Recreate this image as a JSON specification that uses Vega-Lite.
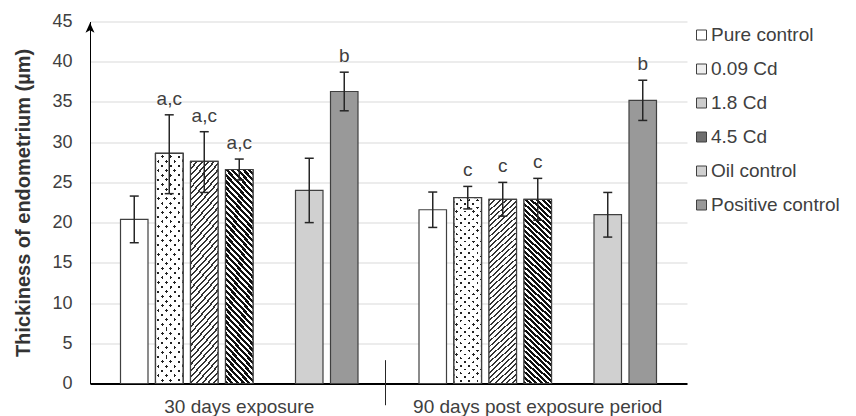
{
"$schema":"https://vega.github.io/schema/vega-lite/v6.json",
"width":597,"height":362,
"autosize":{"type":"none"},
"padding":{"left":90,"top":21.5,"right":169,"bottom":32.5},
"background":"white",
"config":{"view":{"stroke":null},"font":"Liberation Sans",
"axisX":{"domainColor":"#000","domainWidth":2,"ticks":false,"tickSize":0,"labelFontSize":19,"labelColor":"#404040","labelPadding":14,"labelLimit":400,"labelAngle":0,"grid":false,"zindex":1},
"axisY":{"domainColor":"#000","domainWidth":1,"ticks":false,"tickSize":0,"labelFontSize":18,"labelColor":"#404040","labelPadding":18,"grid":true,"gridColor":"#d9d9d9","gridWidth":1,"titleFontSize":20,"titleFontWeight":"bold","titleColor":"#333","titleX":-57,"titleY":181,"titleAngle":-90,"titleBaseline":"bottom","titleAlign":"center"},
"legend":{"orient":"none","legendX":602,"legendY":4,"direction":"vertical","labelFontSize":19,"labelFont":"Liberation Sans","labelColor":"#404040","symbolType":"square","symbolSize":100,"symbolStrokeColor":"#404040","symbolStrokeWidth":1,"rowPadding":14,"labelOffset":0,"padding":0}},
"data":{"values":[
{"period":"30 days exposure","group":"Pure control","value":20.4,"low":17.5,"high":23.3,"label":""},
{"period":"30 days exposure","group":"0.09 Cd","value":28.6,"low":23.6,"high":33.4,"label":"a,c"},
{"period":"30 days exposure","group":"1.8 Cd","value":27.6,"low":23.75,"high":31.3,"label":"a,c"},
{"period":"30 days exposure","group":"4.5 Cd","value":26.6,"low":25.3,"high":27.9,"label":"a,c"},
{"period":"30 days exposure","group":"Oil control","value":24.0,"low":20.0,"high":28.0,"label":""},
{"period":"30 days exposure","group":"Positive control","value":36.3,"low":33.9,"high":38.7,"label":"b"},
{"period":"90 days post exposure period","group":"Pure control","value":21.6,"low":19.4,"high":23.8,"label":""},
{"period":"90 days post exposure period","group":"0.09 Cd","value":23.1,"low":21.7,"high":24.5,"label":"c"},
{"period":"90 days post exposure period","group":"1.8 Cd","value":22.9,"low":20.8,"high":25.0,"label":"c"},
{"period":"90 days post exposure period","group":"4.5 Cd","value":22.9,"low":20.3,"high":25.5,"label":"c"},
{"period":"90 days post exposure period","group":"Oil control","value":21.0,"low":18.2,"high":23.75,"label":""},
{"period":"90 days post exposure period","group":"Positive control","value":35.2,"low":32.7,"high":37.7,"label":"b"}
]},
"layer":[
{"mark":{"type":"bar","stroke":"#404040","strokeWidth":1.2},
"encoding":{
"x":{"field":"period","type":"nominal","title":null,"sort":["30 days exposure","90 days post exposure period"],"scale":{"type":"band","paddingInner":0,"paddingOuter":0}},
"xOffset":{"field":"group","type":"nominal","scale":{"domain":["Pure control","0.09 Cd","1.8 Cd","4.5 Cd","(gap)","Oil control","Positive control"],"paddingInner":0.2143,"paddingOuter":0.8715}},
"y":{"field":"value","type":"quantitative","title":"Thickiness of endometrium (µm)","stack":null,"scale":{"domain":[0,45],"nice":false}},
"color":{"field":"group","type":"nominal","scale":{"domain":["Pure control","0.09 Cd","1.8 Cd","4.5 Cd","Oil control","Positive control"],"range":["#ffffff","#eeeeee","#cccccc","#6e6e6e","#d0d0d0","#999999"]},"legend":{"title":null}}
}},
{"transform":[{"filter":"datum.group == '0.09 Cd'"}],
"mark":{"type":"bar","stroke":"#404040","strokeWidth":1.2,"fill":{"gradient":"linear","x1":0,"y1":0,"x2":0.1495,"y2":1.1141,"stops":[
{"offset":0,"color":"#222"},{"offset":0.012,"color":"#222"},{"offset":0.012,"color":"#fff"},{"offset":0.035714,"color":"#fff"},
{"offset":0.035714,"color":"#222"},{"offset":0.047714,"color":"#222"},{"offset":0.047714,"color":"#fff"},{"offset":0.071429,"color":"#fff"},
{"offset":0.071429,"color":"#222"},{"offset":0.083429,"color":"#222"},{"offset":0.083429,"color":"#fff"},{"offset":0.107143,"color":"#fff"},
{"offset":0.107143,"color":"#222"},{"offset":0.119143,"color":"#222"},{"offset":0.119143,"color":"#fff"},{"offset":0.142857,"color":"#fff"},
{"offset":0.142857,"color":"#222"},{"offset":0.154857,"color":"#222"},{"offset":0.154857,"color":"#fff"},{"offset":0.178571,"color":"#fff"},
{"offset":0.178571,"color":"#222"},{"offset":0.190571,"color":"#222"},{"offset":0.190571,"color":"#fff"},{"offset":0.214286,"color":"#fff"},
{"offset":0.214286,"color":"#222"},{"offset":0.226286,"color":"#222"},{"offset":0.226286,"color":"#fff"},{"offset":0.25,"color":"#fff"},
{"offset":0.25,"color":"#222"},{"offset":0.262,"color":"#222"},{"offset":0.262,"color":"#fff"},{"offset":0.285714,"color":"#fff"},
{"offset":0.285714,"color":"#222"},{"offset":0.297714,"color":"#222"},{"offset":0.297714,"color":"#fff"},{"offset":0.321429,"color":"#fff"},
{"offset":0.321429,"color":"#222"},{"offset":0.333429,"color":"#222"},{"offset":0.333429,"color":"#fff"},{"offset":0.357143,"color":"#fff"},
{"offset":0.357143,"color":"#222"},{"offset":0.369143,"color":"#222"},{"offset":0.369143,"color":"#fff"},{"offset":0.392857,"color":"#fff"},
{"offset":0.392857,"color":"#222"},{"offset":0.404857,"color":"#222"},{"offset":0.404857,"color":"#fff"},{"offset":0.428571,"color":"#fff"},
{"offset":0.428571,"color":"#222"},{"offset":0.440571,"color":"#222"},{"offset":0.440571,"color":"#fff"},{"offset":0.464286,"color":"#fff"},
{"offset":0.464286,"color":"#222"},{"offset":0.476286,"color":"#222"},{"offset":0.476286,"color":"#fff"},{"offset":0.5,"color":"#fff"},
{"offset":0.5,"color":"#222"},{"offset":0.512,"color":"#222"},{"offset":0.512,"color":"#fff"},{"offset":0.535714,"color":"#fff"},
{"offset":0.535714,"color":"#222"},{"offset":0.547714,"color":"#222"},{"offset":0.547714,"color":"#fff"},{"offset":0.571429,"color":"#fff"},
{"offset":0.571429,"color":"#222"},{"offset":0.583429,"color":"#222"},{"offset":0.583429,"color":"#fff"},{"offset":0.607143,"color":"#fff"},
{"offset":0.607143,"color":"#222"},{"offset":0.619143,"color":"#222"},{"offset":0.619143,"color":"#fff"},{"offset":0.642857,"color":"#fff"},
{"offset":0.642857,"color":"#222"},{"offset":0.654857,"color":"#222"},{"offset":0.654857,"color":"#fff"},{"offset":0.678571,"color":"#fff"},
{"offset":0.678571,"color":"#222"},{"offset":0.690571,"color":"#222"},{"offset":0.690571,"color":"#fff"},{"offset":0.714286,"color":"#fff"},
{"offset":0.714286,"color":"#222"},{"offset":0.726286,"color":"#222"},{"offset":0.726286,"color":"#fff"},{"offset":0.75,"color":"#fff"},
{"offset":0.75,"color":"#222"},{"offset":0.762,"color":"#222"},{"offset":0.762,"color":"#fff"},{"offset":0.785714,"color":"#fff"},
{"offset":0.785714,"color":"#222"},{"offset":0.797714,"color":"#222"},{"offset":0.797714,"color":"#fff"},{"offset":0.821429,"color":"#fff"},
{"offset":0.821429,"color":"#222"},{"offset":0.833429,"color":"#222"},{"offset":0.833429,"color":"#fff"},{"offset":0.857143,"color":"#fff"},
{"offset":0.857143,"color":"#222"},{"offset":0.869143,"color":"#222"},{"offset":0.869143,"color":"#fff"},{"offset":0.892857,"color":"#fff"},
{"offset":0.892857,"color":"#222"},{"offset":0.904857,"color":"#222"},{"offset":0.904857,"color":"#fff"},{"offset":0.928571,"color":"#fff"},
{"offset":0.928571,"color":"#222"},{"offset":0.940571,"color":"#222"},{"offset":0.940571,"color":"#fff"},{"offset":0.964286,"color":"#fff"},
{"offset":0.964286,"color":"#222"},{"offset":0.976286,"color":"#222"},{"offset":0.976286,"color":"#fff"},{"offset":1,"color":"#fff"}
]}},
"encoding":{
"x":{"field":"period","type":"nominal","title":null,"sort":["30 days exposure","90 days post exposure period"],"scale":{"type":"band","paddingInner":0,"paddingOuter":0}},
"xOffset":{"field":"group","type":"nominal","scale":{"domain":["Pure control","0.09 Cd","1.8 Cd","4.5 Cd","(gap)","Oil control","Positive control"],"paddingInner":0.2143,"paddingOuter":0.8715}},
"y":{"field":"value","type":"quantitative","title":"Thickiness of endometrium (µm)","stack":null,"scale":{"domain":[0,45],"nice":false}}
}},
{"transform":[{"filter":"datum.group == '0.09 Cd'"}],
"mark":{"type":"bar","stroke":"#404040","strokeWidth":1.2,"fill":{"gradient":"linear","x1":0,"y1":1,"x2":0.1495,"y2":-0.1141,"stops":[
{"offset":0,"color":"rgba(255,255,255,0)"},{"offset":0.012,"color":"rgba(255,255,255,0)"},{"offset":0.012,"color":"#fff"},{"offset":0.035714,"color":"#fff"},
{"offset":0.035714,"color":"rgba(255,255,255,0)"},{"offset":0.047714,"color":"rgba(255,255,255,0)"},{"offset":0.047714,"color":"#fff"},{"offset":0.071429,"color":"#fff"},
{"offset":0.071429,"color":"rgba(255,255,255,0)"},{"offset":0.083429,"color":"rgba(255,255,255,0)"},{"offset":0.083429,"color":"#fff"},{"offset":0.107143,"color":"#fff"},
{"offset":0.107143,"color":"rgba(255,255,255,0)"},{"offset":0.119143,"color":"rgba(255,255,255,0)"},{"offset":0.119143,"color":"#fff"},{"offset":0.142857,"color":"#fff"},
{"offset":0.142857,"color":"rgba(255,255,255,0)"},{"offset":0.154857,"color":"rgba(255,255,255,0)"},{"offset":0.154857,"color":"#fff"},{"offset":0.178571,"color":"#fff"},
{"offset":0.178571,"color":"rgba(255,255,255,0)"},{"offset":0.190571,"color":"rgba(255,255,255,0)"},{"offset":0.190571,"color":"#fff"},{"offset":0.214286,"color":"#fff"},
{"offset":0.214286,"color":"rgba(255,255,255,0)"},{"offset":0.226286,"color":"rgba(255,255,255,0)"},{"offset":0.226286,"color":"#fff"},{"offset":0.25,"color":"#fff"},
{"offset":0.25,"color":"rgba(255,255,255,0)"},{"offset":0.262,"color":"rgba(255,255,255,0)"},{"offset":0.262,"color":"#fff"},{"offset":0.285714,"color":"#fff"},
{"offset":0.285714,"color":"rgba(255,255,255,0)"},{"offset":0.297714,"color":"rgba(255,255,255,0)"},{"offset":0.297714,"color":"#fff"},{"offset":0.321429,"color":"#fff"},
{"offset":0.321429,"color":"rgba(255,255,255,0)"},{"offset":0.333429,"color":"rgba(255,255,255,0)"},{"offset":0.333429,"color":"#fff"},{"offset":0.357143,"color":"#fff"},
{"offset":0.357143,"color":"rgba(255,255,255,0)"},{"offset":0.369143,"color":"rgba(255,255,255,0)"},{"offset":0.369143,"color":"#fff"},{"offset":0.392857,"color":"#fff"},
{"offset":0.392857,"color":"rgba(255,255,255,0)"},{"offset":0.404857,"color":"rgba(255,255,255,0)"},{"offset":0.404857,"color":"#fff"},{"offset":0.428571,"color":"#fff"},
{"offset":0.428571,"color":"rgba(255,255,255,0)"},{"offset":0.440571,"color":"rgba(255,255,255,0)"},{"offset":0.440571,"color":"#fff"},{"offset":0.464286,"color":"#fff"},
{"offset":0.464286,"color":"rgba(255,255,255,0)"},{"offset":0.476286,"color":"rgba(255,255,255,0)"},{"offset":0.476286,"color":"#fff"},{"offset":0.5,"color":"#fff"},
{"offset":0.5,"color":"rgba(255,255,255,0)"},{"offset":0.512,"color":"rgba(255,255,255,0)"},{"offset":0.512,"color":"#fff"},{"offset":0.535714,"color":"#fff"},
{"offset":0.535714,"color":"rgba(255,255,255,0)"},{"offset":0.547714,"color":"rgba(255,255,255,0)"},{"offset":0.547714,"color":"#fff"},{"offset":0.571429,"color":"#fff"},
{"offset":0.571429,"color":"rgba(255,255,255,0)"},{"offset":0.583429,"color":"rgba(255,255,255,0)"},{"offset":0.583429,"color":"#fff"},{"offset":0.607143,"color":"#fff"},
{"offset":0.607143,"color":"rgba(255,255,255,0)"},{"offset":0.619143,"color":"rgba(255,255,255,0)"},{"offset":0.619143,"color":"#fff"},{"offset":0.642857,"color":"#fff"},
{"offset":0.642857,"color":"rgba(255,255,255,0)"},{"offset":0.654857,"color":"rgba(255,255,255,0)"},{"offset":0.654857,"color":"#fff"},{"offset":0.678571,"color":"#fff"},
{"offset":0.678571,"color":"rgba(255,255,255,0)"},{"offset":0.690571,"color":"rgba(255,255,255,0)"},{"offset":0.690571,"color":"#fff"},{"offset":0.714286,"color":"#fff"},
{"offset":0.714286,"color":"rgba(255,255,255,0)"},{"offset":0.726286,"color":"rgba(255,255,255,0)"},{"offset":0.726286,"color":"#fff"},{"offset":0.75,"color":"#fff"},
{"offset":0.75,"color":"rgba(255,255,255,0)"},{"offset":0.762,"color":"rgba(255,255,255,0)"},{"offset":0.762,"color":"#fff"},{"offset":0.785714,"color":"#fff"},
{"offset":0.785714,"color":"rgba(255,255,255,0)"},{"offset":0.797714,"color":"rgba(255,255,255,0)"},{"offset":0.797714,"color":"#fff"},{"offset":0.821429,"color":"#fff"},
{"offset":0.821429,"color":"rgba(255,255,255,0)"},{"offset":0.833429,"color":"rgba(255,255,255,0)"},{"offset":0.833429,"color":"#fff"},{"offset":0.857143,"color":"#fff"},
{"offset":0.857143,"color":"rgba(255,255,255,0)"},{"offset":0.869143,"color":"rgba(255,255,255,0)"},{"offset":0.869143,"color":"#fff"},{"offset":0.892857,"color":"#fff"},
{"offset":0.892857,"color":"rgba(255,255,255,0)"},{"offset":0.904857,"color":"rgba(255,255,255,0)"},{"offset":0.904857,"color":"#fff"},{"offset":0.928571,"color":"#fff"},
{"offset":0.928571,"color":"rgba(255,255,255,0)"},{"offset":0.940571,"color":"rgba(255,255,255,0)"},{"offset":0.940571,"color":"#fff"},{"offset":0.964286,"color":"#fff"},
{"offset":0.964286,"color":"rgba(255,255,255,0)"},{"offset":0.976286,"color":"rgba(255,255,255,0)"},{"offset":0.976286,"color":"#fff"},{"offset":1,"color":"#fff"}
]}},
"encoding":{
"x":{"field":"period","type":"nominal","title":null,"sort":["30 days exposure","90 days post exposure period"],"scale":{"type":"band","paddingInner":0,"paddingOuter":0}},
"xOffset":{"field":"group","type":"nominal","scale":{"domain":["Pure control","0.09 Cd","1.8 Cd","4.5 Cd","(gap)","Oil control","Positive control"],"paddingInner":0.2143,"paddingOuter":0.8715}},
"y":{"field":"value","type":"quantitative","title":"Thickiness of endometrium (µm)","stack":null,"scale":{"domain":[0,45],"nice":false}}
}},
{"transform":[{"filter":"datum.group == '1.8 Cd'"}],
"mark":{"type":"bar","stroke":"#404040","strokeWidth":1.2,"fill":{"gradient":"linear","x1":0,"y1":0,"x2":0.1535,"y2":1.1164,"stops":[
{"offset":0,"color":"#333"},{"offset":0.00875,"color":"#333"},{"offset":0.00875,"color":"#fff"},{"offset":0.025,"color":"#fff"},
{"offset":0.025,"color":"#333"},{"offset":0.03375,"color":"#333"},{"offset":0.03375,"color":"#fff"},{"offset":0.05,"color":"#fff"},
{"offset":0.05,"color":"#333"},{"offset":0.05875,"color":"#333"},{"offset":0.05875,"color":"#fff"},{"offset":0.075,"color":"#fff"},
{"offset":0.075,"color":"#333"},{"offset":0.08375,"color":"#333"},{"offset":0.08375,"color":"#fff"},{"offset":0.1,"color":"#fff"},
{"offset":0.1,"color":"#333"},{"offset":0.10875,"color":"#333"},{"offset":0.10875,"color":"#fff"},{"offset":0.125,"color":"#fff"},
{"offset":0.125,"color":"#333"},{"offset":0.13375,"color":"#333"},{"offset":0.13375,"color":"#fff"},{"offset":0.15,"color":"#fff"},
{"offset":0.15,"color":"#333"},{"offset":0.15875,"color":"#333"},{"offset":0.15875,"color":"#fff"},{"offset":0.175,"color":"#fff"},
{"offset":0.175,"color":"#333"},{"offset":0.18375,"color":"#333"},{"offset":0.18375,"color":"#fff"},{"offset":0.2,"color":"#fff"},
{"offset":0.2,"color":"#333"},{"offset":0.20875,"color":"#333"},{"offset":0.20875,"color":"#fff"},{"offset":0.225,"color":"#fff"},
{"offset":0.225,"color":"#333"},{"offset":0.23375,"color":"#333"},{"offset":0.23375,"color":"#fff"},{"offset":0.25,"color":"#fff"},
{"offset":0.25,"color":"#333"},{"offset":0.25875,"color":"#333"},{"offset":0.25875,"color":"#fff"},{"offset":0.275,"color":"#fff"},
{"offset":0.275,"color":"#333"},{"offset":0.28375,"color":"#333"},{"offset":0.28375,"color":"#fff"},{"offset":0.3,"color":"#fff"},
{"offset":0.3,"color":"#333"},{"offset":0.30875,"color":"#333"},{"offset":0.30875,"color":"#fff"},{"offset":0.325,"color":"#fff"},
{"offset":0.325,"color":"#333"},{"offset":0.33375,"color":"#333"},{"offset":0.33375,"color":"#fff"},{"offset":0.35,"color":"#fff"},
{"offset":0.35,"color":"#333"},{"offset":0.35875,"color":"#333"},{"offset":0.35875,"color":"#fff"},{"offset":0.375,"color":"#fff"},
{"offset":0.375,"color":"#333"},{"offset":0.38375,"color":"#333"},{"offset":0.38375,"color":"#fff"},{"offset":0.4,"color":"#fff"},
{"offset":0.4,"color":"#333"},{"offset":0.40875,"color":"#333"},{"offset":0.40875,"color":"#fff"},{"offset":0.425,"color":"#fff"},
{"offset":0.425,"color":"#333"},{"offset":0.43375,"color":"#333"},{"offset":0.43375,"color":"#fff"},{"offset":0.45,"color":"#fff"},
{"offset":0.45,"color":"#333"},{"offset":0.45875,"color":"#333"},{"offset":0.45875,"color":"#fff"},{"offset":0.475,"color":"#fff"},
{"offset":0.475,"color":"#333"},{"offset":0.48375,"color":"#333"},{"offset":0.48375,"color":"#fff"},{"offset":0.5,"color":"#fff"},
{"offset":0.5,"color":"#333"},{"offset":0.50875,"color":"#333"},{"offset":0.50875,"color":"#fff"},{"offset":0.525,"color":"#fff"},
{"offset":0.525,"color":"#333"},{"offset":0.53375,"color":"#333"},{"offset":0.53375,"color":"#fff"},{"offset":0.55,"color":"#fff"},
{"offset":0.55,"color":"#333"},{"offset":0.55875,"color":"#333"},{"offset":0.55875,"color":"#fff"},{"offset":0.575,"color":"#fff"},
{"offset":0.575,"color":"#333"},{"offset":0.58375,"color":"#333"},{"offset":0.58375,"color":"#fff"},{"offset":0.6,"color":"#fff"},
{"offset":0.6,"color":"#333"},{"offset":0.60875,"color":"#333"},{"offset":0.60875,"color":"#fff"},{"offset":0.625,"color":"#fff"},
{"offset":0.625,"color":"#333"},{"offset":0.63375,"color":"#333"},{"offset":0.63375,"color":"#fff"},{"offset":0.65,"color":"#fff"},
{"offset":0.65,"color":"#333"},{"offset":0.65875,"color":"#333"},{"offset":0.65875,"color":"#fff"},{"offset":0.675,"color":"#fff"},
{"offset":0.675,"color":"#333"},{"offset":0.68375,"color":"#333"},{"offset":0.68375,"color":"#fff"},{"offset":0.7,"color":"#fff"},
{"offset":0.7,"color":"#333"},{"offset":0.70875,"color":"#333"},{"offset":0.70875,"color":"#fff"},{"offset":0.725,"color":"#fff"},
{"offset":0.725,"color":"#333"},{"offset":0.73375,"color":"#333"},{"offset":0.73375,"color":"#fff"},{"offset":0.75,"color":"#fff"},
{"offset":0.75,"color":"#333"},{"offset":0.75875,"color":"#333"},{"offset":0.75875,"color":"#fff"},{"offset":0.775,"color":"#fff"},
{"offset":0.775,"color":"#333"},{"offset":0.78375,"color":"#333"},{"offset":0.78375,"color":"#fff"},{"offset":0.8,"color":"#fff"},
{"offset":0.8,"color":"#333"},{"offset":0.80875,"color":"#333"},{"offset":0.80875,"color":"#fff"},{"offset":0.825,"color":"#fff"},
{"offset":0.825,"color":"#333"},{"offset":0.83375,"color":"#333"},{"offset":0.83375,"color":"#fff"},{"offset":0.85,"color":"#fff"},
{"offset":0.85,"color":"#333"},{"offset":0.85875,"color":"#333"},{"offset":0.85875,"color":"#fff"},{"offset":0.875,"color":"#fff"},
{"offset":0.875,"color":"#333"},{"offset":0.88375,"color":"#333"},{"offset":0.88375,"color":"#fff"},{"offset":0.9,"color":"#fff"},
{"offset":0.9,"color":"#333"},{"offset":0.90875,"color":"#333"},{"offset":0.90875,"color":"#fff"},{"offset":0.925,"color":"#fff"},
{"offset":0.925,"color":"#333"},{"offset":0.93375,"color":"#333"},{"offset":0.93375,"color":"#fff"},{"offset":0.95,"color":"#fff"},
{"offset":0.95,"color":"#333"},{"offset":0.95875,"color":"#333"},{"offset":0.95875,"color":"#fff"},{"offset":0.975,"color":"#fff"},
{"offset":0.975,"color":"#333"},{"offset":0.98375,"color":"#333"},{"offset":0.98375,"color":"#fff"},{"offset":1,"color":"#fff"}
]}},
"encoding":{
"x":{"field":"period","type":"nominal","title":null,"sort":["30 days exposure","90 days post exposure period"],"scale":{"type":"band","paddingInner":0,"paddingOuter":0}},
"xOffset":{"field":"group","type":"nominal","scale":{"domain":["Pure control","0.09 Cd","1.8 Cd","4.5 Cd","(gap)","Oil control","Positive control"],"paddingInner":0.2143,"paddingOuter":0.8715}},
"y":{"field":"value","type":"quantitative","title":"Thickiness of endometrium (µm)","stack":null,"scale":{"domain":[0,45],"nice":false}}
}},
{"transform":[{"filter":"datum.group == '4.5 Cd'"}],
"mark":{"type":"bar","stroke":"#404040","strokeWidth":1.2,"fill":{"gradient":"linear","x1":0,"y1":1,"x2":0.1552,"y2":-0.1173,"stops":[
{"offset":0,"color":"#111"},{"offset":0.01375,"color":"#111"},{"offset":0.01375,"color":"#fff"},{"offset":0.025,"color":"#fff"},
{"offset":0.025,"color":"#111"},{"offset":0.03875,"color":"#111"},{"offset":0.03875,"color":"#fff"},{"offset":0.05,"color":"#fff"},
{"offset":0.05,"color":"#111"},{"offset":0.06375,"color":"#111"},{"offset":0.06375,"color":"#fff"},{"offset":0.075,"color":"#fff"},
{"offset":0.075,"color":"#111"},{"offset":0.08875,"color":"#111"},{"offset":0.08875,"color":"#fff"},{"offset":0.1,"color":"#fff"},
{"offset":0.1,"color":"#111"},{"offset":0.11375,"color":"#111"},{"offset":0.11375,"color":"#fff"},{"offset":0.125,"color":"#fff"},
{"offset":0.125,"color":"#111"},{"offset":0.13875,"color":"#111"},{"offset":0.13875,"color":"#fff"},{"offset":0.15,"color":"#fff"},
{"offset":0.15,"color":"#111"},{"offset":0.16375,"color":"#111"},{"offset":0.16375,"color":"#fff"},{"offset":0.175,"color":"#fff"},
{"offset":0.175,"color":"#111"},{"offset":0.18875,"color":"#111"},{"offset":0.18875,"color":"#fff"},{"offset":0.2,"color":"#fff"},
{"offset":0.2,"color":"#111"},{"offset":0.21375,"color":"#111"},{"offset":0.21375,"color":"#fff"},{"offset":0.225,"color":"#fff"},
{"offset":0.225,"color":"#111"},{"offset":0.23875,"color":"#111"},{"offset":0.23875,"color":"#fff"},{"offset":0.25,"color":"#fff"},
{"offset":0.25,"color":"#111"},{"offset":0.26375,"color":"#111"},{"offset":0.26375,"color":"#fff"},{"offset":0.275,"color":"#fff"},
{"offset":0.275,"color":"#111"},{"offset":0.28875,"color":"#111"},{"offset":0.28875,"color":"#fff"},{"offset":0.3,"color":"#fff"},
{"offset":0.3,"color":"#111"},{"offset":0.31375,"color":"#111"},{"offset":0.31375,"color":"#fff"},{"offset":0.325,"color":"#fff"},
{"offset":0.325,"color":"#111"},{"offset":0.33875,"color":"#111"},{"offset":0.33875,"color":"#fff"},{"offset":0.35,"color":"#fff"},
{"offset":0.35,"color":"#111"},{"offset":0.36375,"color":"#111"},{"offset":0.36375,"color":"#fff"},{"offset":0.375,"color":"#fff"},
{"offset":0.375,"color":"#111"},{"offset":0.38875,"color":"#111"},{"offset":0.38875,"color":"#fff"},{"offset":0.4,"color":"#fff"},
{"offset":0.4,"color":"#111"},{"offset":0.41375,"color":"#111"},{"offset":0.41375,"color":"#fff"},{"offset":0.425,"color":"#fff"},
{"offset":0.425,"color":"#111"},{"offset":0.43875,"color":"#111"},{"offset":0.43875,"color":"#fff"},{"offset":0.45,"color":"#fff"},
{"offset":0.45,"color":"#111"},{"offset":0.46375,"color":"#111"},{"offset":0.46375,"color":"#fff"},{"offset":0.475,"color":"#fff"},
{"offset":0.475,"color":"#111"},{"offset":0.48875,"color":"#111"},{"offset":0.48875,"color":"#fff"},{"offset":0.5,"color":"#fff"},
{"offset":0.5,"color":"#111"},{"offset":0.51375,"color":"#111"},{"offset":0.51375,"color":"#fff"},{"offset":0.525,"color":"#fff"},
{"offset":0.525,"color":"#111"},{"offset":0.53875,"color":"#111"},{"offset":0.53875,"color":"#fff"},{"offset":0.55,"color":"#fff"},
{"offset":0.55,"color":"#111"},{"offset":0.56375,"color":"#111"},{"offset":0.56375,"color":"#fff"},{"offset":0.575,"color":"#fff"},
{"offset":0.575,"color":"#111"},{"offset":0.58875,"color":"#111"},{"offset":0.58875,"color":"#fff"},{"offset":0.6,"color":"#fff"},
{"offset":0.6,"color":"#111"},{"offset":0.61375,"color":"#111"},{"offset":0.61375,"color":"#fff"},{"offset":0.625,"color":"#fff"},
{"offset":0.625,"color":"#111"},{"offset":0.63875,"color":"#111"},{"offset":0.63875,"color":"#fff"},{"offset":0.65,"color":"#fff"},
{"offset":0.65,"color":"#111"},{"offset":0.66375,"color":"#111"},{"offset":0.66375,"color":"#fff"},{"offset":0.675,"color":"#fff"},
{"offset":0.675,"color":"#111"},{"offset":0.68875,"color":"#111"},{"offset":0.68875,"color":"#fff"},{"offset":0.7,"color":"#fff"},
{"offset":0.7,"color":"#111"},{"offset":0.71375,"color":"#111"},{"offset":0.71375,"color":"#fff"},{"offset":0.725,"color":"#fff"},
{"offset":0.725,"color":"#111"},{"offset":0.73875,"color":"#111"},{"offset":0.73875,"color":"#fff"},{"offset":0.75,"color":"#fff"},
{"offset":0.75,"color":"#111"},{"offset":0.76375,"color":"#111"},{"offset":0.76375,"color":"#fff"},{"offset":0.775,"color":"#fff"},
{"offset":0.775,"color":"#111"},{"offset":0.78875,"color":"#111"},{"offset":0.78875,"color":"#fff"},{"offset":0.8,"color":"#fff"},
{"offset":0.8,"color":"#111"},{"offset":0.81375,"color":"#111"},{"offset":0.81375,"color":"#fff"},{"offset":0.825,"color":"#fff"},
{"offset":0.825,"color":"#111"},{"offset":0.83875,"color":"#111"},{"offset":0.83875,"color":"#fff"},{"offset":0.85,"color":"#fff"},
{"offset":0.85,"color":"#111"},{"offset":0.86375,"color":"#111"},{"offset":0.86375,"color":"#fff"},{"offset":0.875,"color":"#fff"},
{"offset":0.875,"color":"#111"},{"offset":0.88875,"color":"#111"},{"offset":0.88875,"color":"#fff"},{"offset":0.9,"color":"#fff"},
{"offset":0.9,"color":"#111"},{"offset":0.91375,"color":"#111"},{"offset":0.91375,"color":"#fff"},{"offset":0.925,"color":"#fff"},
{"offset":0.925,"color":"#111"},{"offset":0.93875,"color":"#111"},{"offset":0.93875,"color":"#fff"},{"offset":0.95,"color":"#fff"},
{"offset":0.95,"color":"#111"},{"offset":0.96375,"color":"#111"},{"offset":0.96375,"color":"#fff"},{"offset":0.975,"color":"#fff"},
{"offset":0.975,"color":"#111"},{"offset":0.98875,"color":"#111"},{"offset":0.98875,"color":"#fff"},{"offset":1,"color":"#fff"}
]}},
"encoding":{
"x":{"field":"period","type":"nominal","title":null,"sort":["30 days exposure","90 days post exposure period"],"scale":{"type":"band","paddingInner":0,"paddingOuter":0}},
"xOffset":{"field":"group","type":"nominal","scale":{"domain":["Pure control","0.09 Cd","1.8 Cd","4.5 Cd","(gap)","Oil control","Positive control"],"paddingInner":0.2143,"paddingOuter":0.8715}},
"y":{"field":"value","type":"quantitative","title":"Thickiness of endometrium (µm)","stack":null,"scale":{"domain":[0,45],"nice":false}}
}},
{"mark":{"type":"rule","color":"#262626","strokeWidth":1.5},
"encoding":{
"x":{"field":"period","type":"nominal","title":null,"sort":["30 days exposure","90 days post exposure period"],"scale":{"type":"band","paddingInner":0,"paddingOuter":0}},
"xOffset":{"field":"group","type":"nominal","scale":{"domain":["Pure control","0.09 Cd","1.8 Cd","4.5 Cd","(gap)","Oil control","Positive control"],"paddingInner":0.2143,"paddingOuter":0.8715}},
"y":{"field":"low","type":"quantitative","title":"Thickiness of endometrium (µm)","scale":{"domain":[0,45],"nice":false}},
"y2":{"field":"high"}
}},
{"mark":{"type":"tick","orient":"horizontal","color":"#262626","size":9,"thickness":1.5,"opacity":1},
"encoding":{
"x":{"field":"period","type":"nominal","title":null,"sort":["30 days exposure","90 days post exposure period"],"scale":{"type":"band","paddingInner":0,"paddingOuter":0}},
"xOffset":{"field":"group","type":"nominal","scale":{"domain":["Pure control","0.09 Cd","1.8 Cd","4.5 Cd","(gap)","Oil control","Positive control"],"paddingInner":0.2143,"paddingOuter":0.8715}},
"y":{"field":"high","type":"quantitative","title":"Thickiness of endometrium (µm)","scale":{"domain":[0,45],"nice":false}}
}},
{"mark":{"type":"tick","orient":"horizontal","color":"#262626","size":9,"thickness":1.5,"opacity":1},
"encoding":{
"x":{"field":"period","type":"nominal","title":null,"sort":["30 days exposure","90 days post exposure period"],"scale":{"type":"band","paddingInner":0,"paddingOuter":0}},
"xOffset":{"field":"group","type":"nominal","scale":{"domain":["Pure control","0.09 Cd","1.8 Cd","4.5 Cd","(gap)","Oil control","Positive control"],"paddingInner":0.2143,"paddingOuter":0.8715}},
"y":{"field":"low","type":"quantitative","title":"Thickiness of endometrium (µm)","scale":{"domain":[0,45],"nice":false}}
}},
{"transform":[{"filter":"datum.label != ''"}],
"mark":{"type":"text","baseline":"alphabetic","align":"center","dy":-10,"fontSize":19,"color":"#404040","font":"Liberation Sans"},
"encoding":{
"x":{"field":"period","type":"nominal","title":null,"sort":["30 days exposure","90 days post exposure period"],"scale":{"type":"band","paddingInner":0,"paddingOuter":0}},
"xOffset":{"field":"group","type":"nominal","scale":{"domain":["Pure control","0.09 Cd","1.8 Cd","4.5 Cd","(gap)","Oil control","Positive control"],"paddingInner":0.2143,"paddingOuter":0.8715}},
"y":{"field":"high","type":"quantitative","title":"Thickiness of endometrium (µm)","scale":{"domain":[0,45],"nice":false}},
"text":{"field":"label"}
}},
{"data":{"values":[{}]},
"mark":{"type":"rule","color":"#262626","strokeWidth":1},
"encoding":{
"x":{"datum":"30 days exposure","type":"nominal","title":null,"bandPosition":0.99,"scale":{"type":"band","paddingInner":0,"paddingOuter":0}},
"y":{"datum":-2.7,"type":"quantitative","title":"Thickiness of endometrium (µm)","scale":{"domain":[0,45],"nice":false}},
"y2":{"datum":2.9}
}},
{"data":{"values":[{}]},
"mark":{"type":"point","shape":"M0,0L0.45,1L0,0.75L-0.45,1Z","filled":true,"size":400,"color":"#000","opacity":1},
"encoding":{
"x":{"datum":"30 days exposure","type":"nominal","title":null,"bandPosition":0,"scale":{"type":"band","paddingInner":0,"paddingOuter":0}},
"y":{"datum":44.85,"type":"quantitative","title":"Thickiness of endometrium (µm)","scale":{"domain":[0,45],"nice":false}}
}}
]
}
